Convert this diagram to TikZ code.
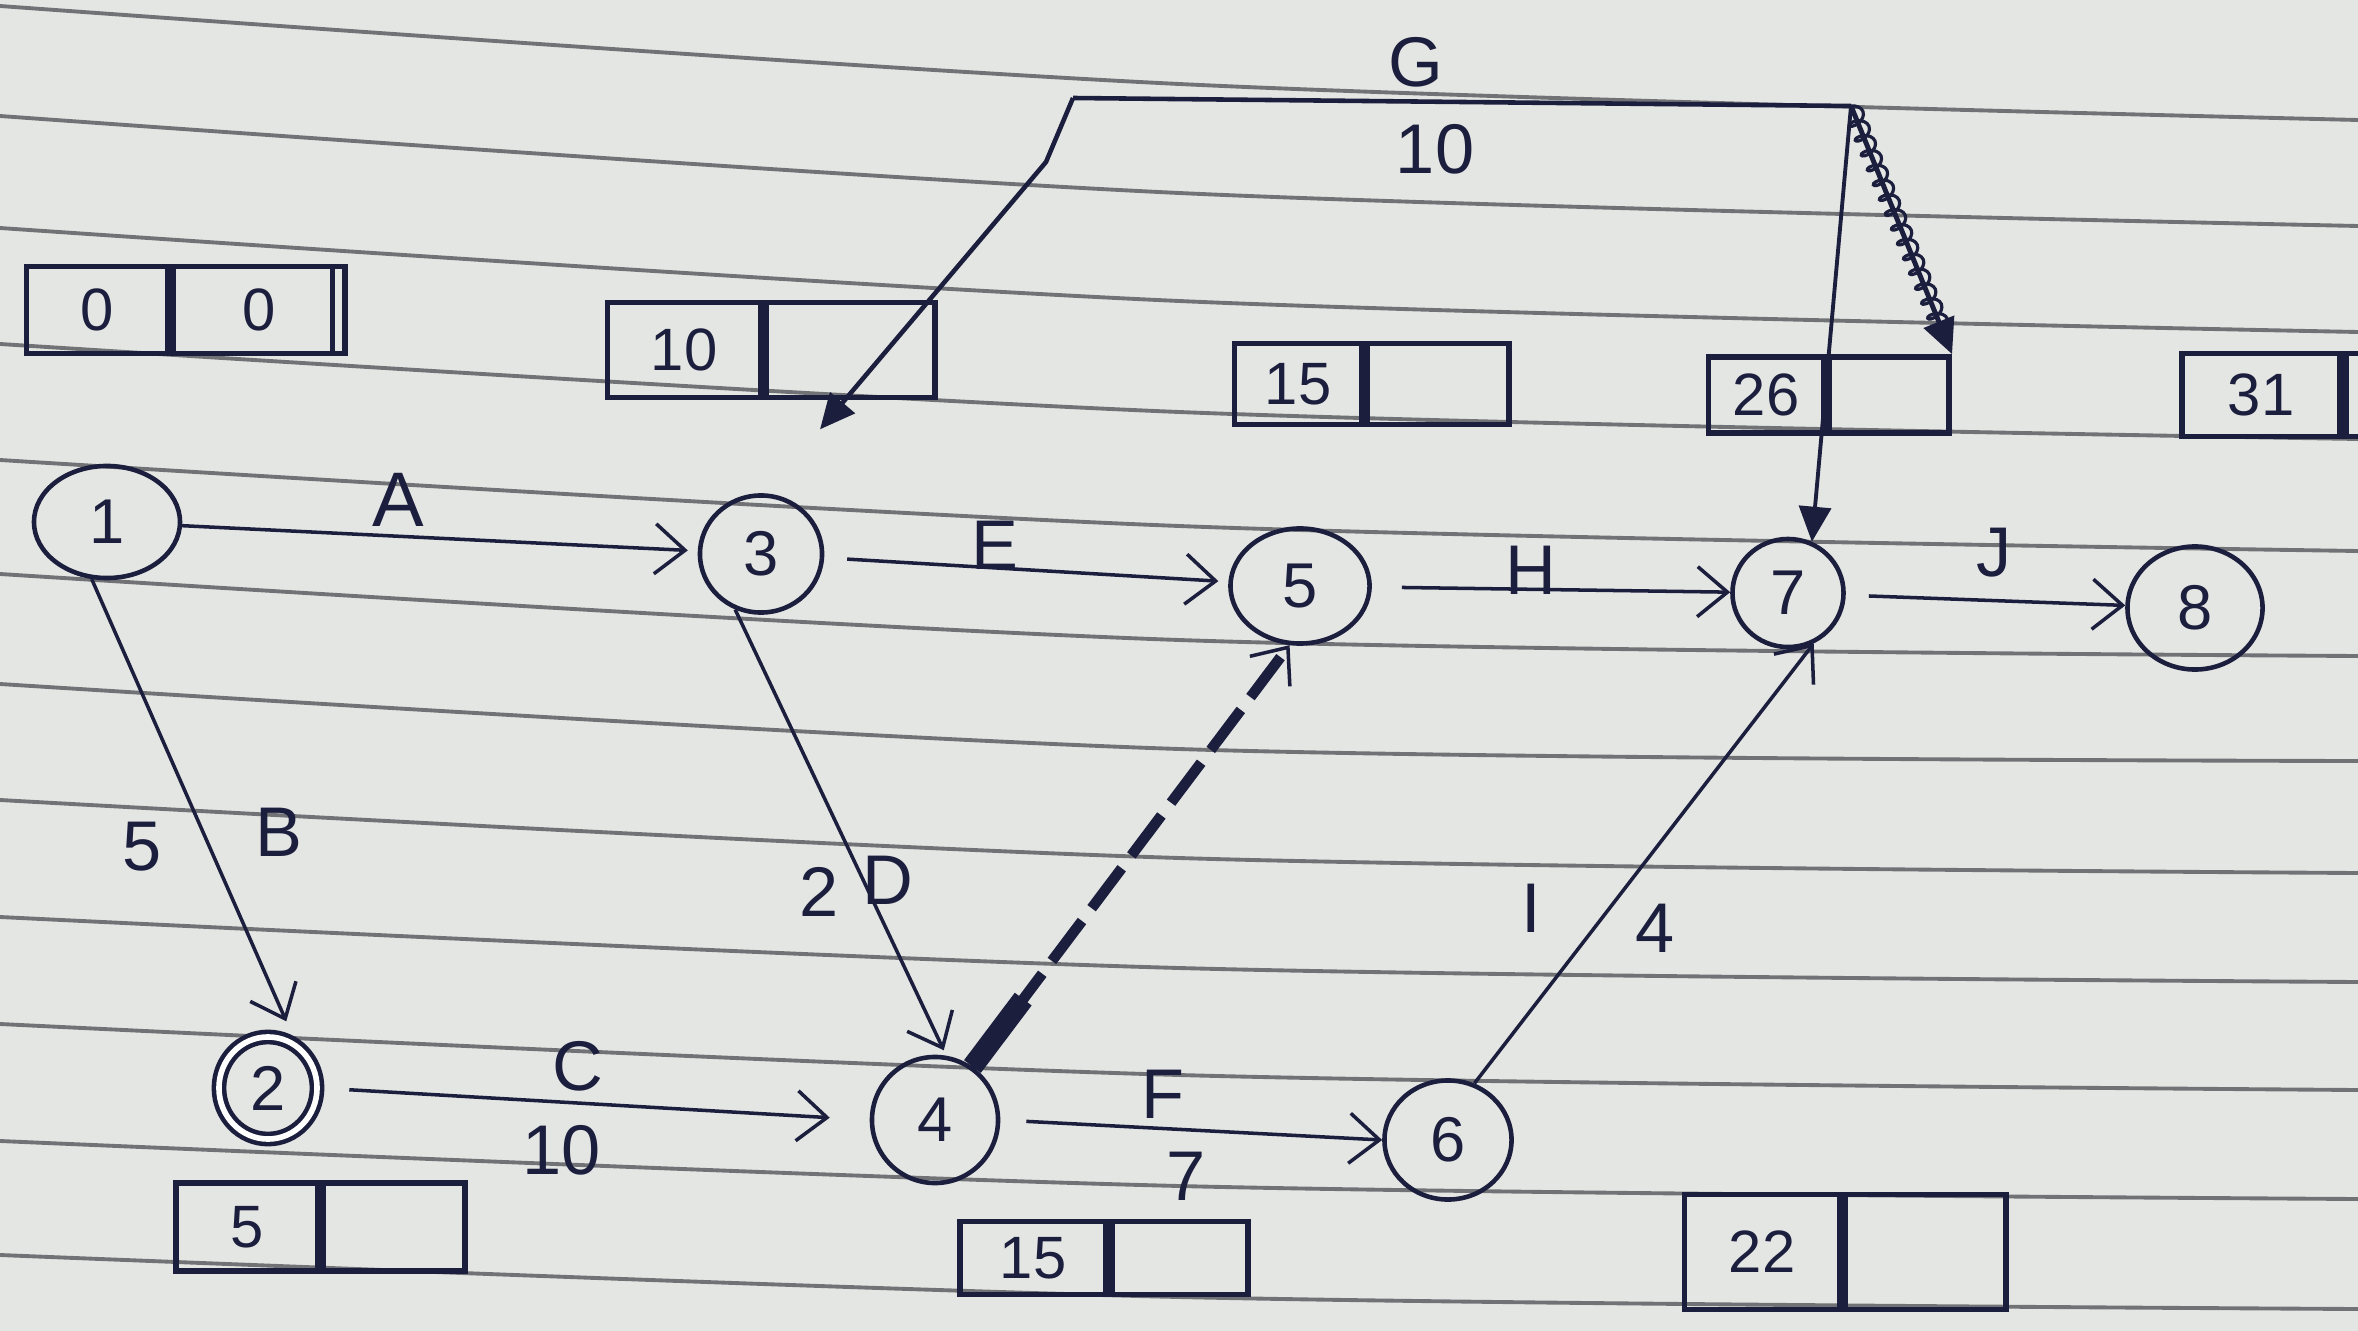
\documentclass[tikz,border=0pt]{standalone}
\usepackage{fontspec}
\setmainfont{Liberation Sans}
\usetikzlibrary{arrows.meta,shapes.geometric,decorations.pathmorphing,calc}
\definecolor{inkc}{RGB}{28,30,62}
\definecolor{paper}{RGB}{228,230,227}
\definecolor{rulec}{RGB}{112,114,117}
\tikzset{
  ev/.style={ellipse, draw=inkc, line width=1.3pt, inner sep=0pt, text=inkc, font=\fontsize{18}{20}\selectfont},
  cell/.style={rectangle, draw=inkc, line width=1.6pt, inner sep=0pt, text=inkc, font=\fontsize{17}{20}\selectfont},
  lab/.style={text=inkc, font=\fontsize{20}{24}\selectfont, inner sep=1pt},
  act/.style={draw=inkc, line width=1pt, -{Straight Barb[length=3mm,width=5mm,line width=1pt]}},
  gline/.style={draw=inkc, line width=1.3pt},
  gtip/.style={-{Triangle[length=3.5mm,width=3.2mm]}},
  ruled/.style={draw=rulec, line width=1.1pt}
}
\begin{document}
\begin{tikzpicture}[x=0.01cm,y=-0.01cm]
\fill[paper] (0,0) rectangle (2358,1331);
\useasboundingbox (0,0) rectangle (2358,1331);
% ruled paper lines
\foreach \a/\b/\c in {6/84/120,116/193/226,228/301/332,344/412/439,460/526/551,574/640/656,684/749/761,800/858/873,917/968/982,1024/1075/1090,1141/1186/1199,1255/1297/1309}
  \draw[ruled] plot[smooth] coordinates {(0,\a) (1179,\b) (2358,\c)};

% events
\node[ev, minimum width=1.46cm, minimum height=1.12cm] (n1) at (107,522) {1};
\node[ev, double, double distance=1.6pt, minimum width=0.98cm, minimum height=1.02cm] (n2) at (268,1088) {2};
\node[ev, minimum width=1.22cm, minimum height=1.17cm] (n3) at (761,554) {3};
\node[ev, minimum width=1.26cm, minimum height=1.26cm] (n4) at (935,1120) {4};
\node[ev, minimum width=1.39cm, minimum height=1.15cm] (n5) at (1300,586) {5};
\node[ev, minimum width=1.27cm, minimum height=1.19cm] (n6) at (1448,1140) {6};
\node[ev, minimum width=1.11cm, minimum height=1.08cm] (n7) at (1788,593) {7};
\node[ev, minimum width=1.35cm, minimum height=1.23cm] (n8) at (2195,608) {8};

% time boxes
\node[cell, minimum width=1.41cm, minimum height=0.87cm] (b1L) at (97,310) {0};
\node[cell, minimum width=1.72cm, minimum height=0.87cm, anchor=west] (b1R) at (b1L.east) {0};
\draw[inkc, line width=1.4pt] ([xshift=-1.6mm]b1R.north east) -- ([xshift=-1.6mm]b1R.south east);
\node[cell, minimum width=1.53cm, minimum height=0.95cm] (b3L) at (684,350) {10};
\node[cell, minimum width=1.69cm, minimum height=0.95cm, anchor=west] (b3R) at (b3L.east) {};
\node[cell, minimum width=1.27cm, minimum height=0.81cm] (b5L) at (1298,384) {15};
\node[cell, minimum width=1.42cm, minimum height=0.81cm, anchor=west] (b5R) at (b5L.east) {};
\node[cell, minimum width=1.15cm, minimum height=0.76cm] (b7L) at (1766,395) {26};
\node[cell, minimum width=1.20cm, minimum height=0.76cm, anchor=west] (b7R) at (b7L.east) {};
\node[cell, minimum width=1.58cm, minimum height=0.83cm] (b8L) at (2261,395) {31};
\node[cell, minimum width=1.50cm, minimum height=0.83cm, anchor=west] (b8R) at (b8L.east) {};
\node[cell, minimum width=1.42cm, minimum height=0.88cm] (b2L) at (247,1227) {5};
\node[cell, minimum width=1.41cm, minimum height=0.88cm, anchor=west] (b2R) at (b2L.east) {};
\node[cell, minimum width=1.46cm, minimum height=0.73cm] (b4L) at (1033,1258) {15};
\node[cell, minimum width=1.36cm, minimum height=0.73cm, anchor=west] (b4R) at (b4L.east) {};
\node[cell, minimum width=1.55cm, minimum height=1.15cm] (b6L) at (1762,1252) {22};
\node[cell, minimum width=1.61cm, minimum height=1.15cm, anchor=west] (b6R) at (b6L.east) {};

% activities
\draw[act, shorten >=1mm] (n1) -- (n3);
\draw[act, shorten <=2.3mm, shorten >=1mm] (n3) -- (n5);
\draw[act, shorten <=3mm] (n5) -- (n7);
\draw[act, shorten <=2.3mm] (n7) -- (n8);
\draw[act, shorten >=2.4mm] (n1.255) -- (n2.58);
\draw[act, shorten <=3mm, shorten >=4mm] (n2.east) -- (n4.west);
\draw[act, shorten >=0.6mm] (n3.245) -- (n4.80);
\draw[act, shorten <=2.6mm] (n4.east) -- (n6.west);
\draw[act] (n6.65) -- (n7.297);
% dummy activity
\draw[inkc, line width=3pt, dash pattern=on 5mm off 1.6mm, -{Straight Barb[length=3mm,width=5mm,line width=1pt]}] (n4.55) -- (n5.260);
\draw[inkc, line width=6pt] (n4.55) -- ($(n4.55)!0.16!(n5.260)$);

% activity G
\coordinate (Gl) at (1073,98);
\coordinate (Gr) at (1851,106);
\coordinate (Gb) at (1046,162);
\coordinate (Gt) at ([shift={(-1.18cm,-0.29cm)}]b3R.south east);
\draw[gline] (Gl) -- (Gr);
\draw[gline, gtip] (Gl) -- (Gb) -- (Gt);
\draw[inkc, line width=1.1pt, gtip] (Gr) -- (n7.65);
\draw[inkc, line width=1.4pt, gtip] (Gr) -- (b7R.north east);
\draw[inkc, line width=0.9pt, decorate, decoration={coil, aspect=0.6, segment length=1.6mm, amplitude=0.9mm}] (Gr) -- ($(Gr)!0.93!(b7R.north east)$);

% labels
\node[lab] (lG) at (1416,62) {G};
\node[lab] (lG10) at (1435,149) {10};
\node[lab, font=\fontsize{22}{26}\selectfont] (lA) at (398,500) {A};
\node[lab] (lE) at (995,545) {E};
\node[lab] (lH) at (1531,570) {H};
\node[lab] (lJ) at (1994,553) {J};
\node[lab] (lB5) at (142,847) {5};
\node[lab] (lB) at (279,832) {B};
\node[lab] (lD2) at (819,892) {2};
\node[lab] (lD) at (888,880) {D};
\node[lab] (lC) at (578,1066) {C};
\node[lab] (lC10) at (562,1150) {10};
\node[lab] (lF) at (1163,1094) {F};
\node[lab] (lF7) at (1186,1176) {7};
\node[lab] (lI) at (1531,908) {I};
\node[lab] (lI4) at (1655,928) {4};
\end{tikzpicture}
\end{document}
